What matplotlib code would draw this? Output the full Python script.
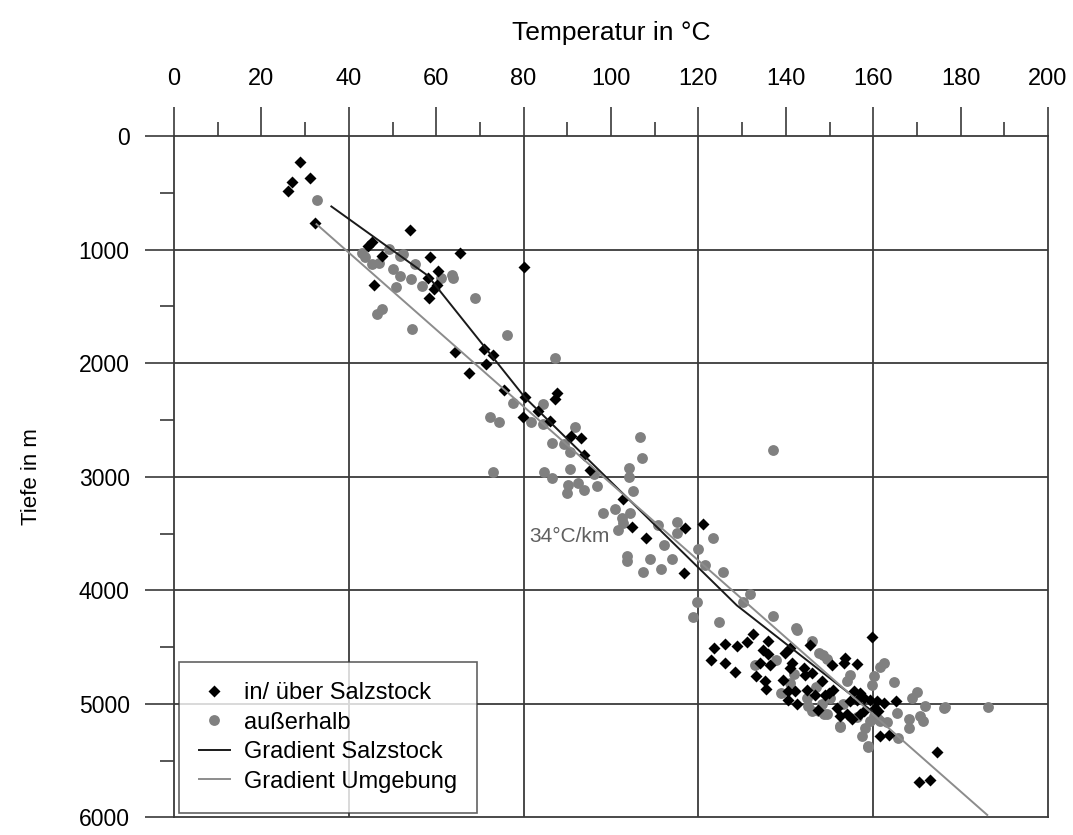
import numpy as np
import matplotlib.pyplot as plt
from matplotlib.lines import Line2D

# Messwerte in/ über Salzstock (Temperatur in °C, Tiefe in m)
salz_temp = [28.8, 27.0, 26.0, 31.0, 32.3, 54.1, 65.4, 44.4, 45.4, 47.5, 45.7, 58.5,
             58.1, 60.5, 60.1, 59.5, 58.4, 80.1, 64.3, 71.0, 73.0, 71.4, 67.5, 75.6,
             80.3, 79.8, 83.2, 86.0, 87.6, 87.2, 90.8, 93.1, 93.8, 95.3, 102.7, 104.9,
             107.9, 117.0, 121.1, 116.6,
             132.6, 131.2, 128.8, 126.0, 123.6, 122.8, 126.0, 128.4, 135.9, 134.8,
             136.0, 134.1, 136.4, 133.2, 135.3, 135.5, 139.3, 139.9, 141.0, 141.4,
             141.0, 140.4, 142.2, 140.6, 142.5, 144.1, 144.4, 146.0, 145.6, 144.8,
             146.7, 147.4, 149.0, 148.3,
             159.7, 153.6, 153.4, 156.3, 150.6, 150.9, 149.8, 155.5, 157.0, 157.8,
             154.7, 156.3, 159.3, 160.9, 162.4, 165.3, 151.7, 152.5, 154.0, 155.1,
             157.8, 157.0, 161.2, 160.5, 161.5, 163.5, 174.6, 170.4, 172.9]
salz_tiefe = [229, 404, 483, 369, 765, 826, 1032, 965, 936, 1058, 1308, 1066,
              1247, 1189, 1308, 1343, 1430, 1151, 1904, 1875, 1925, 2006, 2084, 2235,
              2302, 2470, 2424, 2511, 2267, 2317, 2642, 2660, 2811, 2941, 3198, 3444,
              3543, 3451, 3416, 3846,
              4389, 4453, 4488, 4476, 4506, 4613, 4636, 4715, 4447, 4526,
              4563, 4642, 4656, 4758, 4802, 4868, 4787, 4555, 4511, 4642,
              4685, 4889, 4889, 4962, 5005, 4685, 4744, 4729, 4482, 4874,
              4918, 5055, 4918, 4802,
              4410, 4593, 4636, 4650, 4656, 4874, 4903, 4889, 4903, 4947,
              4976, 4962, 4962, 4976, 4990, 4976, 5034, 5107, 5093, 5136,
              5064, 5093, 5064, 5034, 5282, 5273, 5426, 5688, 5674]

# Messwerte außerhalb
aus_temp = [32.8, 43.0, 43.6, 49.2, 52.4, 51.7, 45.4, 46.9, 55.2, 50.0, 51.8, 54.2,
            50.9, 56.8, 61.2, 63.6, 63.9, 68.8, 46.5, 47.6, 54.5, 76.3,
            87.2, 77.5, 72.4, 74.3, 81.8, 84.4, 84.4, 91.8, 86.6, 89.2, 90.6, 73.0,
            84.7, 86.4, 90.6, 92.5, 93.8, 90.1, 89.9, 96.9, 96.1,
            106.6, 107.2, 104.1, 104.1, 105.1, 98.2, 100.9, 102.4, 102.8, 101.7, 104.4,
            103.6, 103.6, 107.4, 108.9, 111.5, 110.7, 112.1, 113.9, 115.2, 115.0,
            123.3, 119.8, 121.4, 125.7, 119.6, 130.3, 131.7, 118.7, 124.8, 137.1,
            137.0, 142.4, 142.5, 146.0, 147.5, 148.6, 149.4, 133.0, 137.8, 141.9,
            141.0, 144.8, 146.0, 147.5, 148.3, 149.4,
            161.6, 162.4, 160.1, 159.7, 164.7, 170.0, 168.9, 171.9, 176.3, 165.5,
            168.1, 168.3, 170.8, 171.5, 163.2, 160.1, 161.2, 158.2, 152.5, 157.4,
            165.7, 158.9, 148.8, 176.5, 186.2, 152.3, 158.7, 154.8, 154.0, 156.3,
            159.3, 161.6, 147.0, 150.0, 153.0, 145.0, 139.0]
aus_tiefe = [564, 1032, 1066, 994, 1038, 1052, 1125, 1116, 1125, 1174, 1236, 1262,
             1325, 1323, 1250, 1227, 1250, 1424, 1567, 1526, 1700, 1755,
             1953, 2351, 2476, 2520, 2514, 2360, 2540, 2564, 2700, 2715, 2782, 2962,
             2962, 3015, 2936, 3052, 3116, 3072, 3145, 3081, 2976,
             2651, 2834, 2927, 3000, 3122, 3320, 3285, 3363, 3407, 3465, 3320,
             3697, 3741, 3837, 3721, 3808, 3421, 3604, 3721, 3398, 3499,
             3543, 3639, 3778, 3843, 4104, 4104, 4031, 4235, 4279, 2764,
             4226, 4328, 4351, 4447, 4555, 4569, 4604, 4656, 4613, 4738,
             4816, 4947, 5064, 5064, 5005, 5093,
             4671, 4642, 4758, 4831, 4808, 4895, 4947, 5020, 5034, 5078,
             5136, 5215, 5107, 5151, 5156, 5107, 5136, 5215, 5195, 5287,
             5296, 5378, 5093, 5029, 5029, 5203, 5369, 4744, 4802, 5116,
             5151, 5151, 4850, 4950, 5000, 5020, 4900]

# Gradienten
grad_salz_temp = [36, 58, 80.3, 128.8, 159.7]
grad_salz_tiefe = [620, 1227, 2302, 4133, 5063]
grad_umg_temp = [32.6, 186.1]
grad_umg_tiefe = [776, 5978]

grid_x = [40, 80, 120, 160]
grid_y = [1000, 2000, 3000, 4000, 5000]

plt.rcParams['font.family'] = ['Liberation Sans', 'DejaVu Sans']

fig = plt.figure(figsize=(10.73, 8.35), dpi=100)
ax = fig.add_axes([0.1622, 0.021, 0.8145, 0.8161])

gridcol = '#3a3a3a'
for gx in grid_x:
    ax.axvline(gx, color=gridcol, lw=1.3, zorder=1)
for gy in grid_y:
    ax.axhline(gy, color=gridcol, lw=1.3, zorder=1)

ax.plot(aus_temp, aus_tiefe, 'o', color='#808080', ms=7.8, mec='none', zorder=2)
ax.plot(salz_temp, salz_tiefe, 'D', color='black', ms=6.5, mec='none', zorder=3)
ax.plot(grad_salz_temp, grad_salz_tiefe, color='#1a1a1a', lw=1.4, zorder=4)
ax.plot(grad_umg_temp, grad_umg_tiefe, color='#8c8c8c', lw=1.4, zorder=4)

ax.text(90.5, 3530, '34°C/km', color='#606060', fontsize=15, ha='center', va='center')

ax.set_xlim(0, 200)
ax.set_ylim(6000, 0)
ax.xaxis.tick_top()
ax.xaxis.set_label_position('top')
ax.set_xticks(np.arange(0, 201, 20))
ax.set_xticks(np.arange(0, 201, 10), minor=True)
ax.set_yticks(np.arange(0, 6001, 1000))
ax.set_yticks(np.arange(0, 6001, 500), minor=True)
ax.tick_params(axis='x', which='major', length=21, width=1.2, color=gridcol,
               labelsize=17, pad=12)
ax.tick_params(axis='x', which='minor', length=10, width=1.2, color=gridcol)
ax.tick_params(axis='y', which='major', length=21, width=1.2, color=gridcol,
               labelsize=16.5, pad=11)
ax.tick_params(axis='y', which='minor', length=10, width=1.2, color=gridcol)
for s in ax.spines.values():
    s.set_color(gridcol)
    s.set_linewidth(1.3)

ax.set_xlabel('Temperatur in °C', fontsize=19, labelpad=20)
ax.set_ylabel('Tiefe in m', fontsize=16, labelpad=26)

handles = [Line2D([], [], marker='D', ls='none', color='black', ms=6, mec='none'),
           Line2D([], [], marker='o', ls='none', color='#808080', ms=7.8, mec='none'),
           Line2D([], [], color='#1a1a1a', lw=1.4),
           Line2D([], [], color='#8c8c8c', lw=1.4)]
labels = ['in/ über Salzstock', 'außerhalb', 'Gradient Salzstock', 'Gradient Umgebung']
leg = ax.legend(handles, labels, loc='lower left', borderaxespad=0.2,
                fontsize=17, frameon=True, fancybox=False, edgecolor=gridcol,
                borderpad=0.85, handlelength=1.3, handletextpad=0.6,
                labelspacing=0.32)
leg.get_frame().set_linewidth(1.2)

fig.savefig('out.png', dpi=100)
